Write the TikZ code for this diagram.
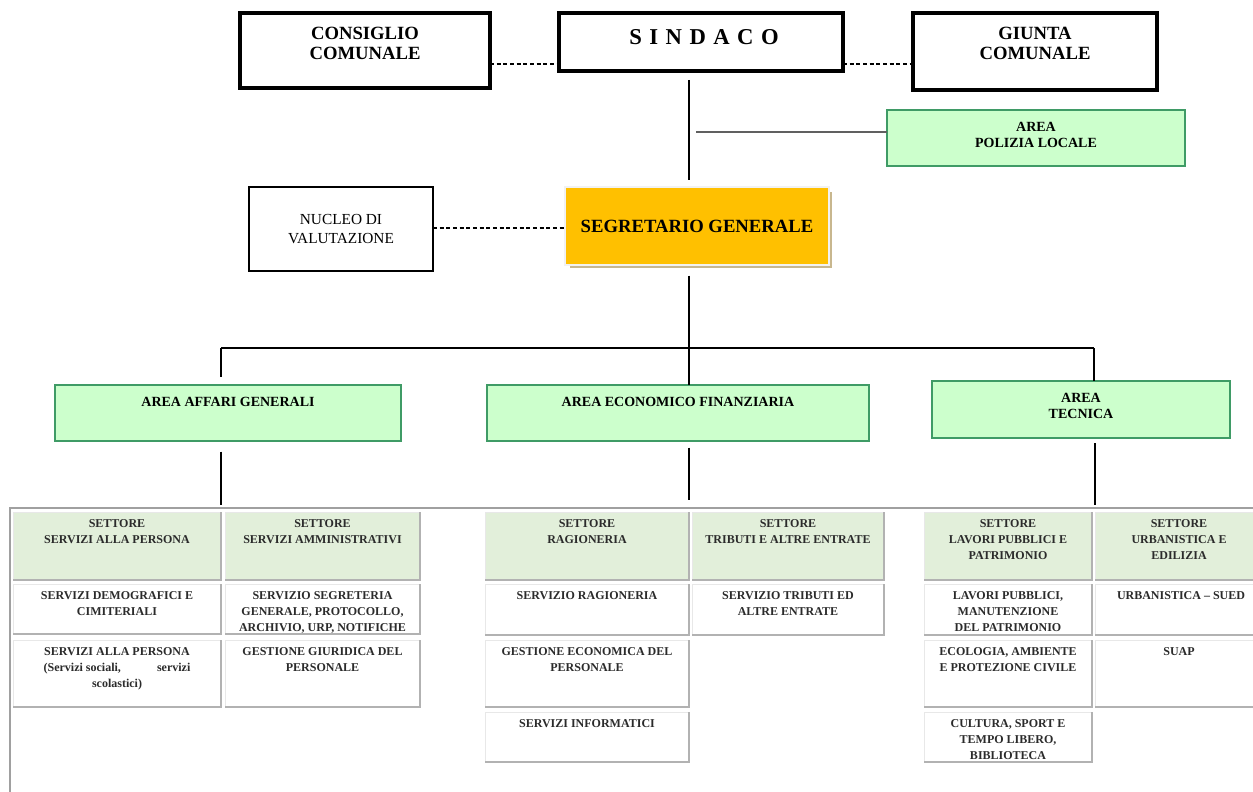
\documentclass[tikz,border=0pt]{standalone}
\usepackage{fontspec}
\setmainfont{Liberation Serif}
\usetikzlibrary{calc}
\definecolor{areagreen}{HTML}{CCFFCC}
\definecolor{areaborder}{HTML}{3F9B66}
\definecolor{hdrgreen}{HTML}{E2EFDA}
\definecolor{segorange}{HTML}{FFC000}
\definecolor{segshadow}{HTML}{C8B78E}
\definecolor{celltext}{HTML}{2B2B2B}
\definecolor{framegray}{HTML}{A0A0A0}

\newcommand\bx[6]{\node[#6, anchor=north west, minimum width={(#4-#2)*0.75pt}, minimum height={(#5-#3)*0.75pt}, inner sep=0pt, outer sep=0pt] (#1) at (#2,#3) {};}
\newcommand\cellbox[7]{%
  \node[cellbg, fill=#6, anchor=north west, minimum width={(#4-#2)*0.75pt}, minimum height={(#5-#3)*0.75pt}] (#1) at (#2,#3) {};
  \draw[cellshadow] (#1.north east) -- (#1.south east) -- (#1.south west);
  \node[celltxt, anchor=north] (#1t) at ({(#2+#4)/2},{#3+7}) {#7};
}

\begin{document}
\begin{tikzpicture}[x=0.75pt, y=-0.75pt,
  topbox/.style={draw=black, line width=2.3pt, fill=white},
  areabox/.style={draw=areaborder, line width=2.2pt, fill=areagreen},
  thinbox/.style={draw=black, line width=0.8pt, fill=white},
  toptxt/.style={font=\fontsize{14}{15}\selectfont\bfseries, align=center, inner sep=0pt},
  areatxt/.style={font=\fontsize{10.5}{12}\selectfont\bfseries, align=center, inner sep=0pt},
  cellbg/.style={draw=gray!18, line width=0.6pt, inner sep=0pt, outer sep=0pt},
  cellshadow/.style={draw=gray!60, line width=1.1pt},
  celltxt/.style={font=\fontsize{9}{12}\selectfont\bfseries, text=celltext, align=center, inner sep=0pt},
  conn/.style={draw=black, line width=1pt},
  dashconn/.style={draw=black, line width=0.8pt, dash pattern=on 3pt off 2pt},
  framel/.style={draw=framegray, line width=1.1pt}]
\useasboundingbox (0,0) rectangle (1253,792);
\fill[white] (0,0) rectangle (1253,792);

% top row
\bx{consiglio}{240}{13}{490}{88}{topbox}
\bx{sindaco}{559}{13}{843}{71}{topbox}
\bx{giunta}{913}{13}{1157}{90}{topbox}
\node[toptxt] (consigliot) at (365,43) {CONSIGLIO\\COMUNALE};
\node[toptxt] (giuntat) at (1035,43) {GIUNTA\\COMUNALE};
\node[inner sep=0pt, font=\fontsize{17}{20}\selectfont\bfseries\addfontfeature{LetterSpace=33}] (sindacot) at (704,37) {SINDACO};

\draw[dashconn] (consiglio.east |- 0,64) -- (sindaco.west |- 0,64);
\draw[dashconn] (sindaco.east |- 0,64) -- (giunta.west |- 0,64);

% polizia
\bx{polizia}{887}{110}{1185}{166}{areabox}
\node[areatxt] (poliziat) at (1036,135) {AREA\\POLIZIA LOCALE};

% trunk
\coordinate (trunk) at (689,0);
\coordinate (polstart) at (696,132);
\draw[draw=gray!75!black, line width=1.1pt] (polstart) -- (polizia.west |- polstart);

% nucleo and segretario
\bx{nucleo}{249}{187}{433}{271}{thinbox}
\node[inner sep=0pt, align=center, font=\fontsize{11.5}{14.25}\selectfont] (nucleot) at (341,229.5) {NUCLEO DI\\VALUTAZIONE};
\fill[segshadow] (570,192) rectangle (832,268);
\bx{segr}{565}{187}{829}{265}{fill=segorange, draw=gray!10, line width=2pt}
\node[inner sep=0pt, font=\fontsize{14}{16}\selectfont\bfseries] (segrt) at (697,226) {SEGRETARIO GENERALE};
\draw[dashconn] (nucleo.east |- 0,228) -- (segr.west |- 0,228);

\draw[conn] ([yshift=-6.75pt]sindaco.south -| trunk) -- ([yshift=5pt]segr.north -| trunk);

% areas
\bx{affari}{55}{385}{401}{441}{areabox}
\bx{econ}{487}{385}{869}{441}{areabox}
\bx{tecnica}{932}{381}{1230}{438}{areabox}
\node[areatxt] (affarit) at (228,402) {AREA AFFARI GENERALI};
\node[areatxt] (econt) at (678,402) {AREA ECONOMICO FINANZIARIA};
\node[areatxt] (tecnicat) at (1081,405.5) {AREA\\TECNICA};

% bus
\coordinate (busL) at (221,348);
\coordinate (busR) at (1094,348);
\draw[conn] ([yshift=-8pt]segr.south -| trunk) -- (econ.north -| trunk);
\draw[draw=black, line width=1.5pt] (busL) -- (busR);
\draw[conn] (busL) -- ([yshift=6pt]affari.north -| busL);
\draw[conn] (busR) -- (tecnica.north -| busR);

% frame
\coordinate (frTL) at (10,508);
\coordinate (frTR) at (1253,508);
\coordinate (frBL) at (10,792);
\draw[framel] (frBL) -- (frTL) -- (frTR);

\draw[conn] ([yshift=-8pt]affari.south -| busL) -- ([yshift=2pt]frTL -| busL);
\draw[conn] ([yshift=-5pt]econ.south -| trunk) -- ([yshift=6pt]frTL -| trunk);
\draw[conn] ([yshift=-4pt]tecnica.south -| 1095,0) -- ([yshift=2pt]frTL -| 1095,0);

% cells column A
\cellbox{hA}{13}{512}{221}{580}{hdrgreen}{SETTORE\\SERVIZI ALLA PERSONA}
\cellbox{A1}{13}{584}{221}{634}{white}{SERVIZI DEMOGRAFICI E\\CIMITERIALI}
\cellbox{A2}{13}{640}{221}{707}{white}{SERVIZI ALLA PERSONA\\\makebox[110pt]{(Servizi sociali,\hfill servizi}\\scolastici)}
% column B
\cellbox{hB}{225}{512}{420}{580}{hdrgreen}{SETTORE\\SERVIZI AMMINISTRATIVI}
\cellbox{B1}{225}{584}{420}{634}{white}{SERVIZIO SEGRETERIA\\GENERALE, PROTOCOLLO,\\ARCHIVIO, URP, NOTIFICHE}
\cellbox{B2}{225}{640}{420}{707}{white}{GESTIONE GIURIDICA DEL\\PERSONALE}
% column C
\cellbox{hC}{485}{512}{689}{580}{hdrgreen}{SETTORE\\RAGIONERIA}
\cellbox{C1}{485}{584}{689}{635}{white}{SERVIZIO RAGIONERIA}
\cellbox{C2}{485}{640}{689}{707}{white}{GESTIONE ECONOMICA DEL\\PERSONALE}
\cellbox{C3}{485}{712}{689}{762}{white}{SERVIZI INFORMATICI}
% column D
\cellbox{hD}{692}{512}{884}{580}{hdrgreen}{SETTORE\\TRIBUTI E ALTRE ENTRATE}
\cellbox{D1}{692}{584}{884}{635}{white}{SERVIZIO TRIBUTI ED\\ALTRE ENTRATE}
% column E
\cellbox{hE}{924}{512}{1092}{580}{hdrgreen}{SETTORE\\LAVORI PUBBLICI E\\PATRIMONIO}
\cellbox{E1}{924}{584}{1092}{635}{white}{LAVORI PUBBLICI,\\MANUTENZIONE\\DEL PATRIMONIO}
\cellbox{E2}{924}{640}{1092}{707}{white}{ECOLOGIA, AMBIENTE\\E PROTEZIONE CIVILE}
\cellbox{E3}{924}{712}{1092}{762}{white}{CULTURA, SPORT E\\TEMPO LIBERO,\\BIBLIOTECA}
% column F
\cellbox{hF}{1095}{512}{1263}{580}{hdrgreen}{}
\cellbox{F1}{1095}{584}{1263}{635}{white}{}
\cellbox{F2}{1095}{640}{1263}{707}{white}{}
\node[celltxt, anchor=north] (hFt2) at (1179,519) {SETTORE\\URBANISTICA E\\EDILIZIA};
\node[celltxt, anchor=north] (F1t2) at (1181,591) {URBANISTICA – SUED};
\node[celltxt, anchor=north] (F2t2) at (1179,647) {SUAP};
\end{tikzpicture}
\end{document}
